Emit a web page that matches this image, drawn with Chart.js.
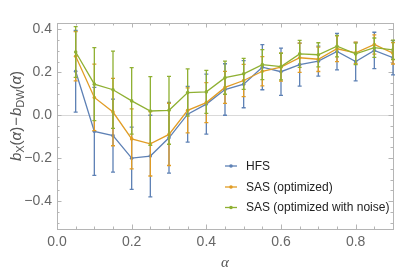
<!DOCTYPE html>
<html>
<head>
<meta charset="utf-8">
<script src="https://cdn.jsdelivr.net/npm/chart.js@4/dist/chart.umd.min.js"></script>
<style>
html,body{margin:0;padding:0;background:#fff;}
#wrap{width:415px;height:273px;position:relative;}
</style>
</head>
<body>
<div id="wrap"><canvas id="c" width="415" height="273"></canvas></div>
<script>
// ---- data ----
const alphas = [0.05,0.10,0.15,0.20,0.25,0.30,0.35,0.40,0.45,0.50,0.55,0.60,0.65,0.70,0.75,0.80,0.85,0.90];
const hfs      = [0.205,-0.075,-0.095,-0.200,-0.190,-0.105,0.005,0.052,0.120,0.145,0.224,0.203,0.236,0.252,0.297,0.250,0.302,0.268];
const hfsErr   = [0.190,0.205,0.170,0.145,0.190,0.165,0.130,0.140,0.120,0.110,0.105,0.110,0.100,0.070,0.085,0.090,0.085,0.080];
const sas      = [0.275,0.083,0.015,-0.110,-0.133,-0.089,0.023,0.059,0.130,0.162,0.205,0.224,0.268,0.261,0.310,0.291,0.330,0.289];
const sasErr   = [0.115,0.155,0.157,0.140,0.150,0.145,0.105,0.093,0.075,0.075,0.068,0.065,0.068,0.057,0.060,0.050,0.045,0.050];
const noise    = [0.295,0.145,0.119,0.067,0.020,0.023,0.106,0.109,0.175,0.193,0.236,0.227,0.286,0.282,0.322,0.286,0.315,0.305];
const noiseErr = [0.118,0.170,0.180,0.155,0.160,0.158,0.110,0.100,0.077,0.072,0.070,0.062,0.063,0.056,0.050,0.050,0.045,0.045];
const seriesNames = ["HFS","SAS (optimized)","SAS (optimized with noise)"];
const seriesColors = ["#5E81B5","#E19C24","#8FB032"];
const xMajor = [0,0.2,0.4,0.6,0.8];
const xMinor = [0,0.05,0.1,0.15,0.2,0.25,0.3,0.35,0.4,0.45,0.5,0.55,0.6,0.65,0.7,0.75,0.8,0.85,0.9];
const yMajor = [-0.4,-0.2,0,0.2,0.4];
const yMinor = [-0.5,-0.45,-0.4,-0.35,-0.3,-0.25,-0.2,-0.15,-0.1,-0.05,0,0.05,0.1,0.15,0.2,0.25,0.3,0.35,0.4];
const xRange = [0,0.9];
const yRange = [-0.53,0.43];

const values = [hfs, sas, noise];
const errs = [hfsErr, sasErr, noiseErr];

function isMajor(v, list){ return list.some(m => Math.abs(m - v) < 1e-9); }
function fmt(v){ const s = Math.abs(v).toFixed(1); return (v < -1e-9 ? "\u2212" : "") + s; }

const datasets = values.map((arr, i) => ({
  label: seriesNames[i],
  data: alphas.map((a, j) => ({x: a, y: arr[j]})),
  borderColor: seriesColors[i],
  backgroundColor: seriesColors[i],
  borderWidth: 1.3,
  pointRadius: 1.8,
  pointBorderWidth: 0,
  pointBackgroundColor: seriesColors[i],
  tension: 0,
  order: 2 - i,
  errIndex: i
}));

const errorBars = {
  id: 'errorBars',
  beforeDatasetDraw(chart, args) {
    const ds = chart.data.datasets[args.index];
    const k = ds.errIndex;
    const xs = chart.scales.x, ys = chart.scales.y;
    const ctx = chart.ctx;
    ctx.save();
    ctx.strokeStyle = seriesColors[k];
    ctx.lineWidth = 1.3;
    alphas.forEach((a, j) => {
      const px = xs.getPixelForValue(a);
      const top = ys.getPixelForValue(values[k][j] + errs[k][j]);
      const bot = ys.getPixelForValue(values[k][j] - errs[k][j]);
      ctx.beginPath();
      ctx.moveTo(px, top); ctx.lineTo(px, bot);
      ctx.moveTo(px - 2, top); ctx.lineTo(px + 2, top);
      ctx.moveTo(px - 2, bot); ctx.lineTo(px + 2, bot);
      ctx.stroke();
    });
    ctx.restore();
  }
};

const frame = {
  id: 'frame',
  beforeDatasetsDraw(chart) {
    const {ctx, chartArea: a, scales: {x, y}} = chart;
    ctx.save();
    // zero line
    ctx.strokeStyle = '#d9d9d9';
    ctx.lineWidth = 1;
    const y0 = Math.round(y.getPixelForValue(0)) + 0.5;
    ctx.beginPath(); ctx.moveTo(a.left, y0); ctx.lineTo(a.right, y0); ctx.stroke();
    // frame
    ctx.strokeStyle = '#b5b5b5';
    ctx.strokeRect(Math.round(a.left) + 0.5, Math.round(a.top) + 0.5, Math.round(a.right - a.left), Math.round(a.bottom - a.top));
    // ticks
    ctx.beginPath();
    xMinor.forEach(v => {
      const px = Math.round(x.getPixelForValue(v)) + 0.5;
      const L = isMajor(v, xMajor) ? 4.5 : 2.5;
      ctx.moveTo(px, a.bottom); ctx.lineTo(px, a.bottom - L);
      ctx.moveTo(px, a.top); ctx.lineTo(px, a.top + L);
    });
    yMinor.forEach(v => {
      const py = Math.round(y.getPixelForValue(v)) + 0.5;
      const L = isMajor(v, yMajor) ? 4.5 : 2.5;
      ctx.moveTo(a.left, py); ctx.lineTo(a.left + L, py);
      ctx.moveTo(a.right, py); ctx.lineTo(a.right - L, py);
    });
    ctx.stroke();
    ctx.restore();
  }
};

const labelsPlugin = {
  id: 'labelsPlugin',
  afterDraw(chart) {
    const {ctx, chartArea: a} = chart;
    ctx.save();
    // legend
    ctx.font = '12px "Liberation Sans", Arial, sans-serif';
    ctx.textBaseline = 'middle';
    const ly = [166, 187, 207.5];
    seriesNames.forEach((n, i) => {
      ctx.strokeStyle = seriesColors[i];
      ctx.fillStyle = seriesColors[i];
      ctx.lineWidth = 1.3;
      ctx.beginPath(); ctx.moveTo(225, ly[i]); ctx.lineTo(237, ly[i]); ctx.stroke();
      ctx.beginPath(); ctx.arc(231, ly[i], 1.8, 0, Math.PI * 2); ctx.fill();
      ctx.fillStyle = '#222';
      ctx.fillText(n, 246, ly[i] + 0.5);
    });
    // x title
    ctx.fillStyle = '#555';
    ctx.font = 'italic 15px "Liberation Serif", "DejaVu Serif", serif';
    ctx.textAlign = 'center';
    ctx.textBaseline = 'alphabetic';
    ctx.fillText('\u03B1', (a.left + a.right) / 2, 267);
    // y title (rotated, rich text)
    const parts = [
      {t:'b', it:true}, {t:'X', sub:true}, {t:'('}, {t:'\u03B1', it:true}, {t:')'},
      {t:'\u2212'},
      {t:'b', it:true}, {t:'DW', sub:true}, {t:'('}, {t:'\u03B1', it:true}, {t:')'}
    ];
    const base = 15;
    const fontFor = p => (p.it ? 'italic ' : '') + (p.sub ? Math.round(base * 0.7) : base) + 'px "Liberation Sans", Arial, sans-serif';
    let total = 0;
    parts.forEach(p => { ctx.font = fontFor(p); p.w = ctx.measureText(p.t).width + (p.t === '\u2212' ? 2 : 0); total += p.w; });
    ctx.translate(20.5, 116);
    ctx.rotate(-Math.PI / 2);
    ctx.textAlign = 'left';
    let u = -total / 2;
    parts.forEach(p => {
      ctx.font = fontFor(p);
      ctx.fillText(p.t, u + (p.t === '\u2212' ? 1 : 0), p.sub ? 3.5 : 0);
      u += p.w;
    });
    ctx.restore();
  }
};

new Chart(document.getElementById('c'), {
  type: 'line',
  data: { datasets },
  options: {
    responsive: false,
    animation: false,
    events: [],
    layout: { padding: { left: 0, right: 22, top: 23, bottom: 0 } },
    plugins: { legend: { display: false }, tooltip: { enabled: false } },
    scales: {
      x: {
        type: 'linear', min: xRange[0], max: xRange[1],
        grid: { display: false, drawTicks: false }, border: { display: false },
        afterBuildTicks: s => { s.ticks = xMajor.map(v => ({ value: v })); },
        afterFit: s => { s.height = 44; },
        ticks: {
          autoSkip: false, maxRotation: 0, padding: 5,
          color: '#666', font: { family: '"Liberation Sans", Arial, sans-serif', size: 14 },
          callback: v => fmt(v)
        }
      },
      y: {
        type: 'linear', min: yRange[0], max: yRange[1],
        grid: { display: false, drawTicks: false }, border: { display: false },
        afterBuildTicks: s => { s.ticks = yMajor.map(v => ({ value: v })); },
        afterFit: s => { s.width = 57; },
        ticks: {
          autoSkip: false, padding: 5,
          color: '#666', font: { family: '"Liberation Sans", Arial, sans-serif', size: 14 },
          callback: v => fmt(v)
        }
      }
    }
  },
  plugins: [frame, errorBars, labelsPlugin]
});
</script>
</body>
</html>
